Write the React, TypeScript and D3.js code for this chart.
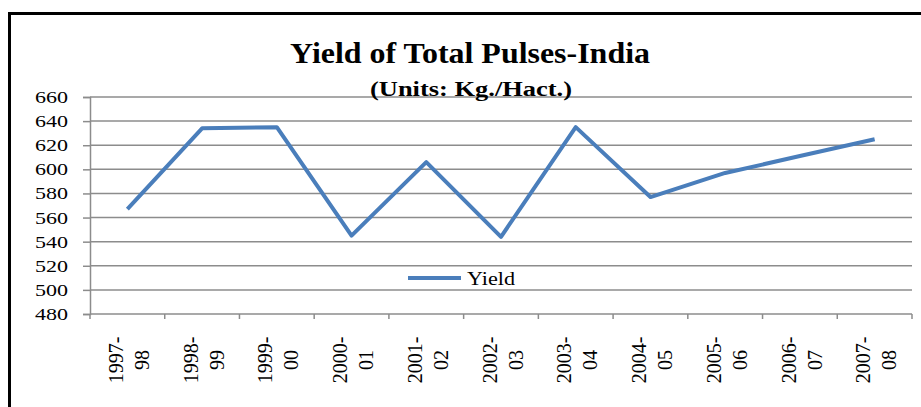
import * as d3 from "d3";
import React, { useEffect, useRef } from "react";

const years = [
  "1997-98", "1998-99", "1999-00", "2000-01", "2001-02", "2002-03",
  "2003-04", "2004-05", "2005-06", "2006-07", "2007-08",
];
const yieldValues = [567, 634, 635, 545, 606, 544, 635, 577, 597, 611, 625];
const yTicks = [480, 500, 520, 540, 560, 580, 600, 620, 640, 660];

const width = 921;
const height = 407;
const font = "'Liberation Serif', 'Times New Roman', serif";

const App: React.FC = () => {
  const ref = useRef<SVGSVGElement>(null);

  useEffect(() => {
    const svg = d3.select(ref.current);
    svg.selectAll("*").remove();

    const left = 90, right = 912, top = 97, bottom = 314;

    const x = d3.scaleBand<string>().domain(years).range([left, right]);
    const y = d3.scaleLinear().domain([480, 660]).range([bottom, top]);

    svg.append("rect").attr("width", width).attr("height", height).attr("fill", "#fff");

    // outer frame (only top and left visible)
    svg.append("line").attr("x1", 8).attr("x2", width).attr("y1", 13.5).attr("y2", 13.5)
      .attr("stroke", "#000").attr("stroke-width", 3);
    svg.append("line").attr("x1", 9.5).attr("x2", 9.5).attr("y1", 12).attr("y2", height)
      .attr("stroke", "#000").attr("stroke-width", 3);

    // gridlines
    svg.append("g")
      .selectAll("line")
      .data(yTicks.slice(1))
      .join("line")
      .attr("x1", left).attr("x2", right)
      .attr("y1", (d) => y(d)).attr("y2", (d) => y(d))
      .attr("stroke", "#8c8c8c").attr("stroke-width", 1.5);

    // y axis
    const yAxis = svg.append("g")
      .attr("transform", `translate(${left},0)`)
      .attr("font-family", font)
      .call(d3.axisLeft(y).tickValues(yTicks).tickSize(7).tickPadding(15));
    yAxis.attr("font-family", font);
    yAxis.select(".domain").attr("stroke", "#8c8c8c").attr("stroke-width", 1.5);
    yAxis.selectAll(".tick line").attr("stroke", "#8c8c8c").attr("stroke-width", 1.5);
    yAxis.selectAll(".tick text")
      .attr("font-family", font).attr("font-size", 17).attr("fill", "#000")
      .attr("textLength", 33).attr("lengthAdjust", "spacingAndGlyphs");

    // x axis
    svg.append("line").attr("x1", left).attr("x2", right).attr("y1", bottom).attr("y2", bottom)
      .attr("stroke", "#8c8c8c").attr("stroke-width", 1.5);
    const bounds = years.map((d) => x(d)!).concat([right]);
    svg.append("g").selectAll("line").data(bounds).join("line")
      .attr("x1", (d) => d).attr("x2", (d) => d)
      .attr("y1", bottom).attr("y2", bottom + 5)
      .attr("stroke", "#8c8c8c").attr("stroke-width", 1.5);

    const labels = svg.append("g").selectAll("text").data(years).join("text")
      .attr("transform", (d) => `translate(${x(d)! + x.bandwidth() / 2 + 0.6},360) rotate(-90)`)
      .attr("text-anchor", "middle")
      .attr("font-family", font).attr("font-size", 20).attr("fill", "#000");
    labels.append("tspan").attr("x", 0).attr("dy", -5).text((d) => d.split("-")[0] + "-");
    labels.append("tspan").attr("x", 0).attr("dy", 26).text((d) => d.split("-")[1]);

    // line
    const line = d3.line<number>()
      .x((_, i) => x(years[i])! + x.bandwidth() / 2)
      .y((d) => y(d));
    svg.append("path").datum(yieldValues).attr("d", line)
      .attr("fill", "none").attr("stroke", "#4a7ebb").attr("stroke-width", 4)
      .attr("stroke-linejoin", "round");

    // legend
    svg.append("line").attr("x1", 408).attr("x2", 461).attr("y1", 278).attr("y2", 278)
      .attr("stroke", "#4a7ebb").attr("stroke-width", 4);
    svg.append("text").attr("x", 467).attr("y", 285).text("Yield")
      .attr("font-family", font).attr("font-size", 18).attr("fill", "#000")
      .attr("textLength", 48).attr("lengthAdjust", "spacingAndGlyphs");

    // titles
    svg.append("text").attr("x", 470).attr("y", 63).attr("text-anchor", "middle")
      .attr("font-family", font).attr("font-weight", "bold").attr("font-size", 30)
      .attr("textLength", 360).attr("lengthAdjust", "spacingAndGlyphs")
      .text("Yield of Total Pulses-India");
    svg.append("text").attr("x", 471).attr("y", 96).attr("text-anchor", "middle")
      .attr("font-family", font).attr("font-weight", "bold").attr("font-size", 20)
      .attr("textLength", 202).attr("lengthAdjust", "spacingAndGlyphs")
      .text("(Units: Kg./Hact.)");
  }, []);

  return (
    <svg
      ref={ref}
      width={width}
      height={height}
      style={{ position: "absolute", left: 0, top: 0, display: "block" }}
    />
  );
};

export default App;
